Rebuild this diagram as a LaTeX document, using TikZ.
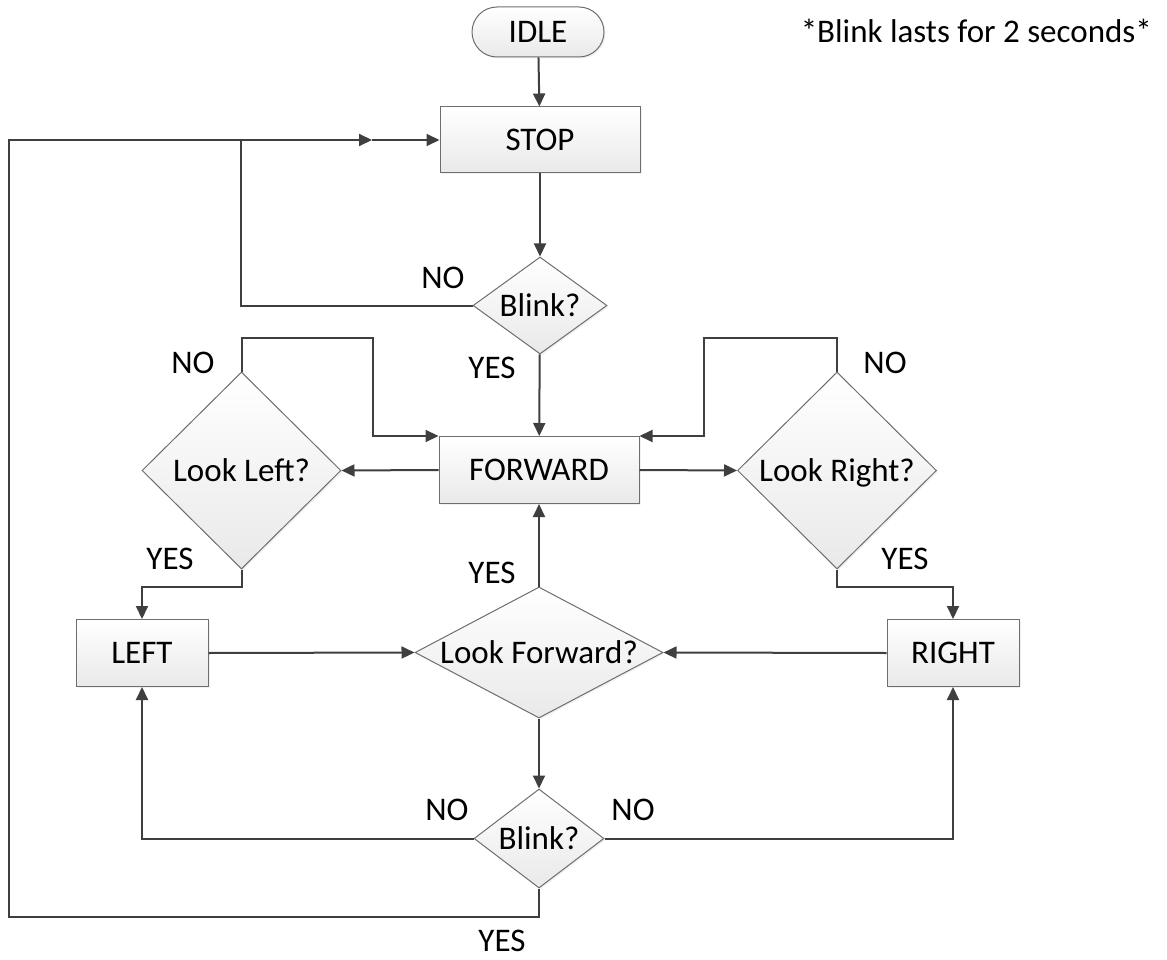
\documentclass[tikz,border=0pt]{standalone}
\usepackage{fontspec}
\setmainfont{Carlito}
\usetikzlibrary{arrows.meta,shapes.geometric,shadows}
\definecolor{linegray}{HTML}{3F3F3F}
\definecolor{edgegray}{HTML}{6E6E6E}
\definecolor{fillbottom}{HTML}{E9E9E9}
\begin{document}
\begin{tikzpicture}[x=1pt,y=-1pt,
  font=\fontsize{33}{40}\selectfont,
  every node/.style={inner sep=0pt},
  shadebox/.style={draw=edgegray, line width=1pt, top color=white, bottom color=fillbottom,
    drop shadow={opacity=0.12, shadow xshift=1.5pt, shadow yshift=-1.5pt}},
  procbox/.style 2 args={shadebox, rectangle, minimum width=#1, minimum height=#2},
  decision/.style n args={3}{shadebox, diamond, text depth=0pt, minimum width=#1, minimum height=#2, aspect=#3},
  wire/.style={draw=linegray, line width=2pt},
  flow/.style={wire, -{Triangle[length=13pt,width=12pt]}},
  lbl/.style={text=black}]
\useasboundingbox (0,0) rectangle (1167,960);

% process boxes
\node[procbox={132}{50}, rounded corners=25pt] (idle) at (538,32) {IDLE};
\node[procbox={200}{66}] (stop) at (540,140) {STOP};
\node[procbox={200}{67}] (fwd) at (539,470) {FORWARD};
\node[procbox={132}{67}] (left) at (142,653) {LEFT};
\node[procbox={132}{67}] (right) at (953,653) {RIGHT};

% decisions
\node[decision={134}{97}{1.4}] (blinkA) at (540,305.5) {Blink?};
\node[decision={199}{197}{1}] (lookL) at (241.5,470.5) {Look Left?};
\node[decision={199}{197}{1}] (lookR) at (837,470.5) {Look Right?};
\node[decision={248}{131}{1.9}] (lookF) at (539,652.5) {Look Forward?};
\node[decision={130}{99}{1.3}] (blinkB) at (539,838.5) {Blink?};

% routing points
\coordinate (join) at (241,140);
\coordinate (mid) at (372,140);
\coordinate (loopTL) at (9,140);
\coordinate (loopBL) at (9,917);
\coordinate (lnL) at (373,338);
\coordinate (lnR) at (704,338);

% main line
\draw[flow] (idle) -- (stop);
\draw[flow] (stop) -- (blinkA);
\draw[flow] (blinkA) -- (fwd);
\draw[wire] (blinkA.west) -| (join);

% return to STOP after a blink
\draw[flow] (blinkB.south) |- (loopBL) -- (loopTL) -- (mid);
\draw[flow] (mid) -- (stop.west);

% side checks
\draw[flow] (fwd.west) -- (lookL.east);
\draw[flow] (fwd.east) -- (lookR.west);
\draw[flow] (lookL.north) |- (lnL) |- (fwd.north west);
\draw[flow] (lookR.north) |- (lnR) |- (fwd.north east);
\draw[flow] (lookL.south) -- ++(0,17) -| (left.north);
\draw[flow] (lookR.south) -- ++(0,17) -| (right.north);

% turning back to forward
\draw[flow] (left.east) -- (lookF.west);
\draw[flow] (right.west) -- (lookF.east);
\draw[flow] (lookF.north) -- (fwd.south);
\draw[flow] (lookF.south) -- (blinkB.north);
\draw[flow] (blinkB.west) -| (left.south);
\draw[flow] (blinkB.east) -| (right.south);

% branch labels
\node[lbl] (noA) at (443,278) {NO};
\node[lbl] (yesA) at (492,368) {YES};
\node[lbl] (noL) at (193,363) {NO};
\node[lbl] (yesL) at (170,559) {YES};
\node[lbl] (noR) at (885,363) {NO};
\node[lbl] (yesR) at (905,559) {YES};
\node[lbl] (yesF) at (492,573) {YES};
\node[lbl] (noBL) at (447,810) {NO};
\node[lbl] (noBR) at (633,810) {NO};
\node[lbl] (yesB) at (502,941) {YES};

\node[lbl, anchor=base east] (note) at (1152,43) {*Blink lasts for 2 seconds*};
\end{tikzpicture}
\end{document}
